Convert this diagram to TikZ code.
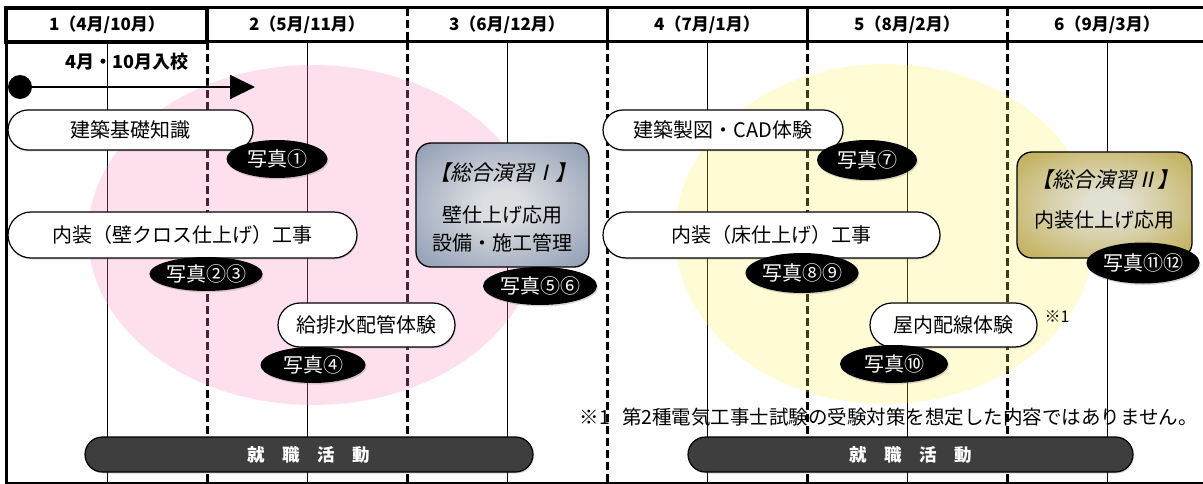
\documentclass[tikz,border=0pt]{standalone}
\usepackage{fontspec}
\setmainfont{Noto Sans CJK JP}
\newfontfamily\jpslant{Noto Sans CJK JP}[FakeSlant=0.22]
\usetikzlibrary{arrows.meta,shapes.geometric,shadows}
\definecolor{pinkc}{RGB}{248,140,195}
\definecolor{yelc}{RGB}{255,245,80}
\definecolor{slatein}{RGB}{220,222,226}
\definecolor{slateout}{RGB}{115,132,162}
\definecolor{goldin}{RGB}{226,224,210}
\definecolor{goldout}{RGB}{180,154,34}
\definecolor{jobfill}{RGB}{62,62,62}
\pgfdeclareradialshading{slateshade}{\pgfpointorigin}{color(0bp)=(slatein); color(6bp)=(slatein); color(46bp)=(slateout); color(80bp)=(slateout)}
\pgfdeclareradialshading{goldshade}{\pgfpointorigin}{color(0bp)=(goldin); color(6bp)=(goldin); color(46bp)=(goldout); color(80bp)=(goldout)}
\begin{document}
\begin{tikzpicture}[x=1pt,y=-1pt,
 dashln/.style={line width=3pt, dash pattern=on 8pt off 4pt},
 thinln/.style={line width=0.9pt},
 frameln/.style={line width=3pt},
 hdrtext/.style={font=\bfseries\fontsize{17}{17}\selectfont, inner sep=0pt},
 bodytext/.style={font=\fontsize{20}{20}\selectfont},
 titletext/.style={font=\jpslant\fontsize{21}{21}\selectfont, inner sep=0pt},
 pillbox/.style={draw, line width=1.2pt, fill=white, inner sep=0pt, bodytext, drop shadow={opacity=0.3, shadow xshift=0.8pt, shadow yshift=-1.5pt}},
 photo/.style={ellipse, fill=black, text=white, inner sep=0pt, bodytext, drop shadow={opacity=0.3, shadow xshift=1pt, shadow yshift=-1.5pt}},
 jobpill/.style={draw, line width=1.2pt, fill=jobfill, text=white, inner sep=0pt, rounded corners=17.5pt, minimum height=35pt, font=\bfseries\fontsize{17.5}{17.5}\selectfont, drop shadow={opacity=0.3, shadow xshift=1pt, shadow yshift=-1.5pt}},
 sogobox/.style={draw, line width=1.3pt, rounded corners=15pt, inner sep=0pt},
]
\useasboundingbox (0,0) rectangle (1203,484);
\fill[white] (0,0) rectangle (1203,484);

% body grid lines
\foreach \xx in {107,307,507,707,907,1107} \draw[thinln] (\xx,42) -- (\xx,483);
\foreach \xx in {207,407,607,807,1007} \draw[dashln] (\xx,42) -- (\xx,483);

% translucent period circles
\fill[pinkc, fill opacity=0.27] (313,235) ellipse [x radius=225pt, y radius=170pt];
\fill[yelc, fill opacity=0.24] (885,234) ellipse [x radius=210pt, y radius=170pt];

% frame and header
\draw[frameln] (5,8) -- (1203,8);
\draw[frameln] (5,42) -- (1203,42);
\draw[frameln] (6,7) -- (6,484);
\draw[line width=2pt] (5,483) -- (1203,483);
\draw[dashln] (407,8) -- (407,42);
\draw[frameln] (607,8) -- (607,42);
\draw[frameln] (807,8) -- (807,42);
\draw[dashln] (1007,8) -- (1007,42);
\draw[line width=4pt] (6,8) rectangle (207,42);

\node[hdrtext] (h1) at (107,25) {1（4月/10月）};
\node[hdrtext] (h2) at (307,25) {2（5月/11月）};
\node[hdrtext] (h3) at (507,25) {3（6月/12月）};
\node[hdrtext] (h4) at (707,25) {4（7月/1月）};
\node[hdrtext] (h5) at (907,25) {5（8月/2月）};
\node[hdrtext] (h6) at (1107,25) {6（9月/3月）};

% enrollment arrow
\node[font=\bfseries\fontsize{18}{18}\selectfont, inner sep=0pt] (enroll) at (127,62) {4月・10月入校};
\node[circle, fill=black, minimum size=24pt, inner sep=0pt] (startdot) at (20,87) {};
\coordinate (arrowend) at (255,87);
\draw[line width=2pt, -{Triangle[length=25pt,width=24pt]}] (startdot) -- (arrowend);

% course pills
\node[pillbox, rounded corners=20pt, minimum width=245pt, minimum height=40pt] (p1) at (130.5,130) {建築基礎知識};
\node[pillbox, rounded corners=23pt, minimum width=349pt, minimum height=46pt] (p2) at (182.5,235) {内装（壁クロス仕上げ）工事};
\node[pillbox, rounded corners=22pt, minimum width=177pt, minimum height=44pt] (p3) at (366.5,325) {給排水配管体験};
\node[pillbox, rounded corners=20pt, minimum width=240pt, minimum height=40pt] (p4) at (723,130) {建築製図・CAD体験};
\node[pillbox, rounded corners=23pt, minimum width=337pt, minimum height=46pt] (p5) at (771.5,235) {内装（床仕上げ）工事};
\node[pillbox, rounded corners=22pt, minimum width=167pt, minimum height=44pt] (p6) at (953.5,325) {屋内配線体験};

% comprehensive exercise boxes
\node[sogobox, shading=slateshade, minimum width=173pt, minimum height=124pt] (sogo1) at (502.5,205) {};
\node[titletext] (sogo1t) at (502.5,173) {【総合演習Ⅰ】};
\node[bodytext, inner sep=0pt] (sogo1a) at (502.5,215) {壁仕上げ応用};
\node[bodytext, inner sep=0pt] (sogo1b) at (502.5,243) {設備・施工管理};

\node[sogobox, shading=goldshade, minimum width=175pt, minimum height=106pt] (sogo2) at (1104.5,205) {};
\node[titletext] (sogo2t) at (1104.5,180) {【総合演習Ⅱ】};
\node[bodytext, inner sep=0pt] (sogo2a) at (1104.5,220) {内装仕上げ応用};

% photo labels
\node[photo, minimum width=101pt, minimum height=38pt] (ph1) at (277,159) {写真①};
\node[photo, minimum width=112pt, minimum height=34pt] (ph23) at (206,274) {写真②③};
\node[photo, minimum width=105pt, minimum height=36pt] (ph4) at (313,365) {写真④};
\node[photo, minimum width=114pt, minimum height=38pt] (ph56) at (540,286) {写真⑤⑥};
\node[photo, minimum width=100pt, minimum height=40pt] (ph7) at (867,160) {写真⑦};
\node[photo, minimum width=109pt, minimum height=40pt] (ph89) at (802,273) {写真⑧⑨};
\node[photo, minimum width=108pt, minimum height=38pt] (ph10) at (894,364) {写真⑩};
\node[photo, minimum width=113pt, minimum height=41pt] (ph1112) at (1143,263) {写真⑪⑫};

% notes
\node[font=\fontsize{16}{16}\selectfont, inner sep=0pt] (mark1) at (1057,317) {※1};
\node[font=\fontsize{19.5}{19.5}\selectfont, inner sep=0pt, anchor=east] (note) at (1198,417) {※1\hspace{12pt}第2種電気工事士試験の受験対策を想定した内容ではありません。};

% job hunting bars
\node[jobpill, minimum width=448pt] (job1) at (309,454.5) {就　職　活　動};
\node[jobpill, minimum width=445pt] (job2) at (910.5,454.5) {就　職　活　動};
\end{tikzpicture}
\end{document}
